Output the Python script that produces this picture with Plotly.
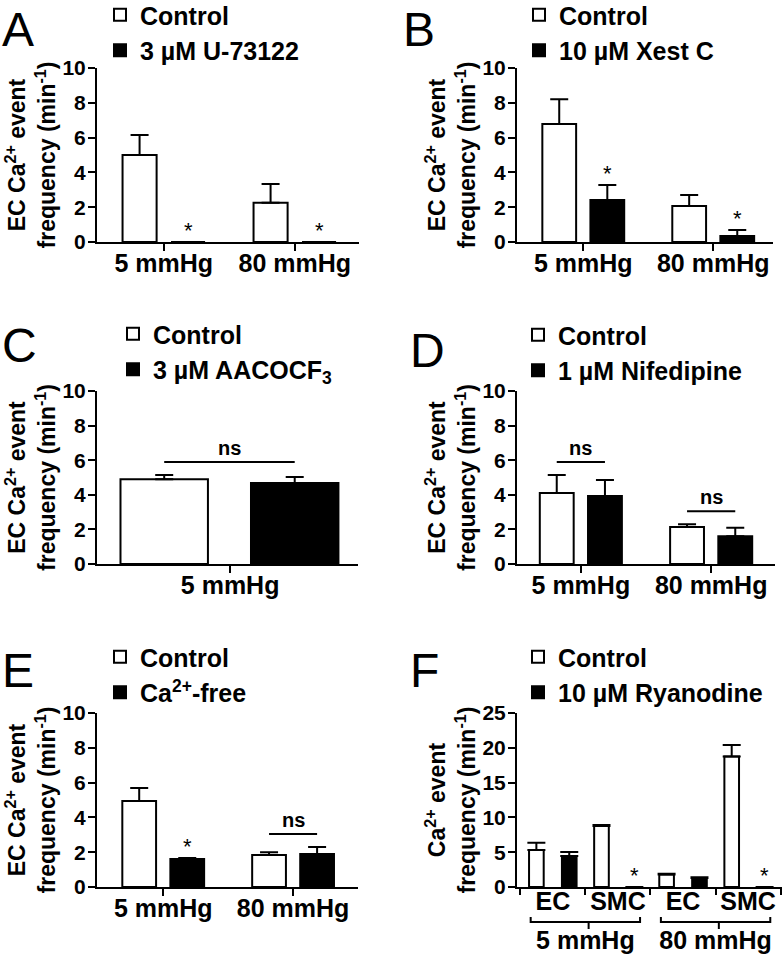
import plotly.graph_objects as go

FONT = "Liberation Sans, Arial, Helvetica, sans-serif"
W, H = 784, 960

# ---------------- data ----------------
# Panel A
a_cats = ["5 mmHg", "80 mmHg"]
a_names = ["Control", "3 µM U-73122"]
a_ctrl = [5.0, 2.25]
a_ctrl_err = [1.15, 1.08]
a_trt = [0.0, 0.0]
a_trt_err = [0.0, 0.0]
a_stars = ["*", "*"]
a_ns = [None, None]

# Panel B
b_cats = ["5 mmHg", "80 mmHg"]
b_names = ["Control", "10 µM Xest C"]
b_ctrl = [6.78, 2.07]
b_ctrl_err = [1.42, 0.63]
b_trt = [2.41, 0.35]
b_trt_err = [0.87, 0.34]
b_stars = ["*", "*"]
b_ns = [None, None]

# Panel C
c_cats = ["5 mmHg"]
c_names = ["Control", "3 µM AACOCF<sub>3</sub>"]
c_ctrl = [4.9]
c_ctrl_err = [0.24]
c_trt = [4.68]
c_trt_err = [0.35]
c_stars = [None]
c_ns = ["ns"]

# Panel D
d_cats = ["5 mmHg", "80 mmHg"]
d_names = ["Control", "1 µM Nifedipine"]
d_ctrl = [4.1, 2.14]
d_ctrl_err = [1.05, 0.16]
d_trt = [3.93, 1.6]
d_trt_err = [0.93, 0.5]
d_stars = [None, None]
d_ns = ["ns", "ns"]

# Panel E
e_cats = ["5 mmHg", "80 mmHg"]
e_names = ["Control", "Ca<sup>2+</sup>-free"]
e_ctrl = [4.94, 1.84]
e_ctrl_err = [0.75, 0.15]
e_trt = [1.61, 1.9]
e_trt_err = [0.06, 0.4]
e_stars = ["*", None]
e_ns = [None, "ns"]

# Panel F
f_pressure = ["5 mmHg", "5 mmHg", "80 mmHg", "80 mmHg"]
f_cell = ["EC", "SMC", "EC", "SMC"]
f_names = ["Control", "10 µM Ryanodine"]
f_ctrl = [5.3, 8.77, 1.78, 18.76]
f_ctrl_err = [1.05, 0.14, 0.14, 1.64]
f_trt = [4.45, 0.0, 1.3, 0.0]
f_trt_err = [0.58, 0.0, 0.1, 0.0]
f_stars = [None, "*", None, "*"]
f_ns = [None, None, None, None]

EC_TITLE = "EC Ca<sup>2+</sup> event<br>frequency (min<sup>-1</sup>)"
CA_TITLE = "Ca<sup>2+</sup> event<br>frequency (min<sup>-1</sup>)"

# ---------------- layout geometry (pixels) ----------------
panels = [
    dict(letter="A", cats=a_cats, names=a_names, ctrl=a_ctrl, ce=a_ctrl_err, trt=a_trt, te=a_trt_err,
         stars=a_stars, ns=a_ns, xd=(97, 359), yd=(68, 242), xr=(-0.51, 1.49), ymax=10, dtick=2,
         geom=(-0.315, 0.055, 0.26), leg=(100, -8), let=(0, 1), title=EC_TITLE),
    dict(letter="B", cats=b_cats, names=b_names, ctrl=b_ctrl, ce=b_ctrl_err, trt=b_trt, te=b_trt_err,
         stars=b_stars, ns=b_ns, xd=(517, 773), yd=(68, 242), xr=(-0.51, 1.46), ymax=10, dtick=2,
         geom=(-0.315, 0.055, 0.26), leg=(519, -8), let=(401, 1), title=EC_TITLE),
    dict(letter="C", cats=c_cats, names=c_names, ctrl=c_ctrl, ce=c_ctrl_err, trt=c_trt, te=c_trt_err,
         stars=c_stars, ns=c_ns, xd=(97, 358), yd=(391, 564), xr=(-0.51, 0.49), ymax=10, dtick=2,
         geom=(-0.42, 0.08, 0.335), leg=(113, 311), let=(0, 317), title=EC_TITLE),
    dict(letter="D", cats=d_cats, names=d_names, ctrl=d_ctrl, ce=d_ctrl_err, trt=d_trt, te=d_trt_err,
         stars=d_stars, ns=d_ns, xd=(517, 775), yd=(391, 564), xr=(-0.49, 1.49), ymax=10, dtick=2,
         geom=(-0.315, 0.055, 0.26), leg=(518, 312), let=(408, 322), title=EC_TITLE),
    dict(letter="E", cats=e_cats, names=e_names, ctrl=e_ctrl, ce=e_ctrl_err, trt=e_trt, te=e_trt_err,
         stars=e_stars, ns=e_ns, xd=(97, 358), yd=(713, 887), xr=(-0.51, 1.5), ymax=10, dtick=2,
         geom=(-0.315, 0.055, 0.26), leg=(100, 634), let=(0, 642), title=EC_TITLE),
    dict(letter="F", cats=[f_pressure, f_cell], names=f_names, ctrl=f_ctrl, ce=f_ctrl_err, trt=f_trt,
         te=f_trt_err, stars=f_stars, ns=f_ns, xd=(517, 782), yd=(713, 887), xr=(-0.55, 3.52), ymax=25,
         dtick=5, geom=(-0.365, 0.14, 0.225), leg=(518, 634), let=(408, 642), title=CA_TITLE),
]

fig = go.Figure()
annotations = []
shapes = []

for i, p in enumerate(panels, start=1):
    sfx = "" if i == 1 else str(i)
    xa, ya = "x" + sfx, "y" + sfx
    legname = "legend" + sfx
    off_c, off_t, bw = p["geom"]
    n = len(p["ctrl"])
    fig.add_trace(go.Bar(
        x=p["cats"], y=p["ctrl"], name=p["names"][0], xaxis=xa, yaxis=ya, legend=legname,
        offset=off_c, width=bw, marker=dict(color="white", line=dict(color="black", width=2)),
        error_y=dict(type="data", symmetric=False, array=p["ce"], arrayminus=[0] * n,
                     color="black", thickness=2, width=9),
    ))
    fig.add_trace(go.Bar(
        x=p["cats"], y=p["trt"], name=p["names"][1], xaxis=xa, yaxis=ya, legend=legname,
        offset=off_t, width=bw, marker=dict(color="black", line=dict(color="black", width=2)),
        error_y=dict(type="data", symmetric=False, array=p["te"], arrayminus=[0] * n,
                     color="black", thickness=2, width=9),
    ))

    x0, x1 = p["xd"]
    yt, yb = p["yd"]
    r0, r1 = p["xr"]
    px_per_unit = (yb - yt) / p["ymax"]

    def dom(v, r0=r0, r1=r1):
        return (v - r0) / (r1 - r0)

    xaxis = dict(
        domain=[x0 / W, x1 / W], anchor=ya, range=list(p["xr"]),
        showline=True, linecolor="black", linewidth=2, ticks="outside", ticklen=7, tickwidth=2,
        tickcolor="black", showgrid=False, zeroline=False, fixedrange=True, automargin=False,
        tickangle=0, ticklabelstandoff=-9,
        tickfont=dict(family=FONT, size=25, color="black", weight="bold"),
    )
    if i == 6:
        xaxis.update(type="multicategory", showdividers=False, ticklen=6)
    else:
        xaxis.update(type="category")
    yaxis = dict(
        domain=[1 - yb / H, 1 - yt / H], anchor=xa, range=[0, p["ymax"]], dtick=p["dtick"],
        showline=True, linecolor="black", linewidth=2, ticks="outside", ticklen=7, tickwidth=2,
        tickcolor="black", showgrid=False, zeroline=False, fixedrange=True, automargin=False,
        ticklabelstandoff=-2,
        tickfont=dict(family=FONT, size=21, color="black", weight="bold"),
        title=dict(text=p["title"], font=dict(family=FONT, size=23, color="black", weight="bold"),
                   standoff=0),
    )
    fig.layout["xaxis" + sfx] = xaxis
    fig.layout["yaxis" + sfx] = yaxis

    fig.layout[legname] = dict(
        x=p["leg"][0] / W, y=1 - p["leg"][1] / H, xanchor="left", yanchor="top",
        bgcolor="rgba(0,0,0,0)", borderwidth=0, tracegroupgap=0,
        font=dict(family=FONT, size=25, color="black", weight="bold"),
    )

    # panel letter
    annotations.append(dict(
        text=p["letter"], xref="paper", yref="paper", x=p["let"][0] / W, y=1 - p["let"][1] / H,
        xanchor="left", yanchor="top", showarrow=False,
        font=dict(family=FONT, size=48, color="black"),
    ))

    for k in range(n):
        tops = (p["ctrl"][k] + p["ce"][k], p["trt"][k] + p["te"][k])
        if p["stars"][k]:
            xc = k + off_t + bw / 2
            annotations.append(dict(
                text=p["stars"][k], xref=xa + " domain", yref=ya, x=dom(xc), y=tops[1],
                xanchor="center", yanchor="bottom", yshift=-3, showarrow=False,
                font=dict(family=FONT, size=22, color="black"),
            ))
        if p["ns"][k]:
            xc0 = k + off_c + bw / 2
            xc1 = k + off_t + bw / 2
            yline = max(tops) + 13 / px_per_unit
            shapes.append(dict(
                type="line", xref=xa + " domain", yref=ya, x0=dom(xc0), x1=dom(xc1),
                y0=yline, y1=yline, line=dict(color="black", width=2),
            ))
            annotations.append(dict(
                text=p["ns"][k], xref=xa + " domain", yref=ya, x=dom((xc0 + xc1) / 2), y=yline,
                xanchor="center", yanchor="bottom", yshift=1, showarrow=False,
                font=dict(family=FONT, size=20, color="black", weight="bold"),
            ))

    if i == 6:
        # group brackets under the cell-type labels
        dh = yb - yt
        groups = [(0, 1), (2, 3)]
        for g0, g1 in groups:
            xl = dom(g0 - 0.34)
            xr_ = dom(g1 + 0.34)
            xm = dom((g0 + g1) / 2 + 0.05)
            yh = -35 / dh
            shapes.append(dict(type="path", xref=xa + " domain", yref=ya + " domain",
                               path=f"M{xl},{yh + 5 / dh} L{xl},{yh} L{xr_},{yh} L{xr_},{yh + 5 / dh}",
                               line=dict(color="black", width=2)))
            shapes.append(dict(type="line", xref=xa + " domain", yref=ya + " domain",
                               x0=xm, x1=xm, y0=yh, y1=yh - 7 / dh,
                               line=dict(color="black", width=2)))

fig.update_layout(
    width=W, height=H, margin=dict(l=0, r=0, t=0, b=0, autoexpand=False),
    paper_bgcolor="white", plot_bgcolor="white", barmode="overlay",
    annotations=annotations, shapes=shapes,
    font=dict(family=FONT, color="black"),
)

fig.write_html("out.html", config={"displayModeBar": False},
               post_script="document.body.style.margin='0px';")
